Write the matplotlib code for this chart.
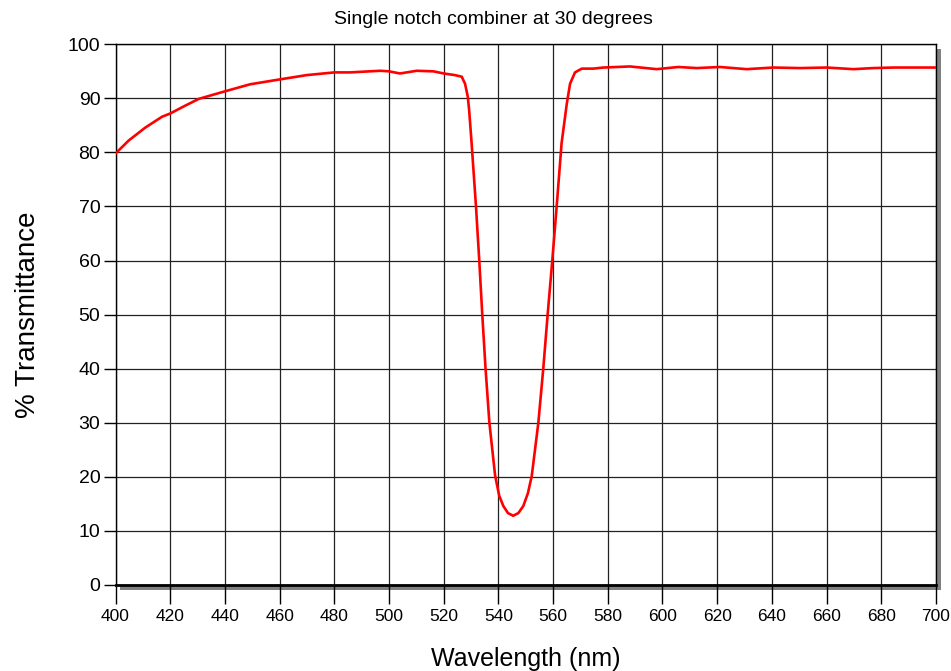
import matplotlib
matplotlib.use("Agg")
import matplotlib.pyplot as plt
from matplotlib.patches import Rectangle

# Values
wavelength = [400, 404.8, 410.9, 417.0, 420, 424.9, 430.4, 440, 449.2, 460, 469.9,
              480, 485.7, 496.7, 500, 504, 510.1, 516.2, 520, 524.1, 526.6,
              527.8, 528.8, 529.3, 530.2, 531.8, 533.0, 534.1, 535.3, 536.7,
              538.8, 540.3, 541.8, 543.5, 545.4, 547.3, 549.1, 550.8, 552.2,
              554.6, 556.4, 558.0, 559.7, 561.3, 563.1, 565.0, 566.2, 568.0,
              570.5, 574.7, 578.4, 588.1, 597.9, 605.8, 612.5, 621.0, 630.8,
              640.5, 650.3, 660, 669.8, 677.1, 684.4, 700]
transmittance = [79.8, 82.2, 84.6, 86.6, 87.2, 88.5, 89.9, 91.3, 92.6, 93.5, 94.3,
                 94.8, 94.8, 95.1, 95.0, 94.6, 95.1, 95.0, 94.6, 94.3, 94.0,
                 92.7, 90.3, 87.8, 81.7, 70, 60, 50, 40, 30,
                 20.2, 16.5, 14.6, 13.3, 12.8, 13.3, 14.6, 17, 20.2,
                 30, 40, 50, 60, 70, 81.7, 89, 92.7, 94.8,
                 95.5, 95.5, 95.7, 95.9, 95.4, 95.8, 95.6, 95.8, 95.4,
                 95.7, 95.6, 95.7, 95.4, 95.6, 95.7, 95.7]

x_ticks = list(range(400, 701, 20))
y_ticks = list(range(0, 101, 10))

plt.rcParams["font.family"] = ["Liberation Sans", "DejaVu Sans"]

fig = plt.figure(figsize=(9.51, 6.71), dpi=100)
ax = fig.add_axes([0.1215, 0.1282, 0.8627, 0.8058])

# gray drop shadow behind the plot frame
W, H = 951, 671
l, b, w, h = 115.5, 671 - 585, 820.5, 541
shadow = Rectangle(((l + 5) / W, (b - 5) / H), w / W, h / H,
                   transform=fig.transFigure, facecolor="#808080",
                   edgecolor="none", zorder=0)
fig.patches.append(shadow)
ax.set_zorder(1)
ax.set_facecolor("white")

ax.plot(wavelength, transmittance, color="red", linewidth=1.9, zorder=3,
        solid_joinstyle="round")

ax.set_xlim(400, 700)
ax.set_ylim(0, 100)
ax.set_xticks(x_ticks)
ax.set_yticks(y_ticks)
ax.grid(True, color="#222222", linewidth=0.9)

for s in ax.spines.values():
    s.set_color("black")
    s.set_linewidth(1.0)
ax.spines["bottom"].set_linewidth(2.0)

ax.tick_params(axis="x", direction="out", length=14, width=1, labelsize=12.5, pad=3)
ax.tick_params(axis="y", direction="out", length=9, width=1, labelsize=14, pad=2)

fig.text(493 / W, 1 - 20 / H, "Single notch combiner at 30 degrees",
         fontsize=14, ha="center", va="center")
ax.set_xlabel("Wavelength (nm)", fontsize=18, labelpad=17)
ax.set_ylabel("% Transmittance", fontsize=20, labelpad=19)

fig.savefig("out.png", dpi=100)
